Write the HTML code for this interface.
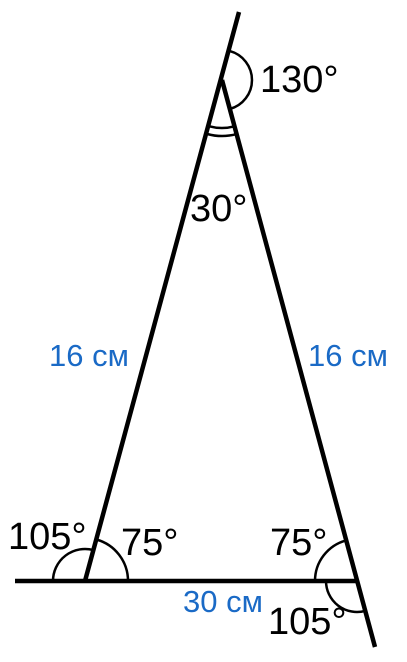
<!DOCTYPE html>
<html><head><meta charset="utf-8"><style>
html,body{margin:0;padding:0;background:#fff;}
svg{display:block;}
text{font-family:"Liberation Sans",sans-serif;}
</style></head><body>
<svg width="407" height="662" viewBox="0 0 407 662">
<g stroke="#000" fill="none">
<line x1="15" y1="581" x2="358" y2="581" stroke-width="4.5"/>
<line x1="85" y1="581" x2="239" y2="12" stroke-width="4.5"/>
<line x1="222" y1="80" x2="375" y2="647" stroke-width="4.5"/>
<path d="M128,581 A43,43 0 0 0 96.3,539.5" stroke-width="2.5"/>
<path d="M53,581 A32,32 0 0 1 93.4,550.1" stroke-width="2.5"/>
<path d="M315,581 A42,42 0 0 1 346.1,540.4" stroke-width="2.5"/>
<path d="M326,581 A31,31 0 0 0 365.1,610.9" stroke-width="2.5"/>
<path d="M229.9,51.1 A30,30 0 0 1 229.8,109" stroke-width="2.5"/>
<path d="M209.3,126.3 A48,48 0 0 0 234.5,126.3" stroke-width="2.5"/>
<path d="M207.2,134 A56,56 0 0 0 236.6,134.1" stroke-width="2.5"/>
</g>
<g fill="#000" font-size="38">
<text x="260" y="92">130°</text>
<text x="190" y="221">30°</text>
<text x="8" y="549">105°</text>
<text x="121" y="555">75°</text>
<text x="270" y="555">75°</text>
<text x="268" y="634">105°</text>
</g>
<g fill="#1a6ac6" font-size="31">
<text x="49" y="366">16 см</text>
<text x="308" y="366">16 см</text>
<text x="183" y="612">30 см</text>
</g>
</svg>
</body></html>
